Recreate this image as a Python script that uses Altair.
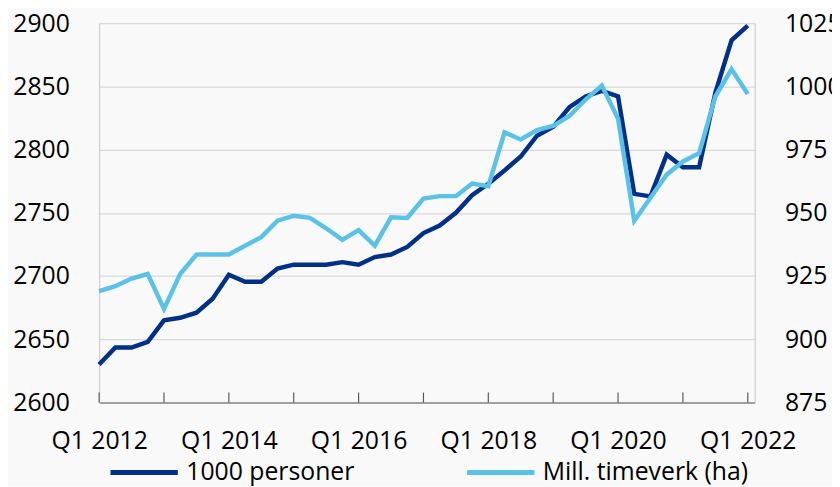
import altair as alt
import pandas as pd

quarters = list(range(41))  # Q1 2012 .. Q1 2022, index of quarter

persons = [2630, 2643.5, 2643.5, 2648, 2665, 2667, 2671, 2682, 2701, 2695.5,
           2695.5, 2706, 2709, 2709, 2709, 2711, 2709, 2715, 2717, 2723,
           2734, 2740, 2750, 2764, 2773, 2783.5, 2794.5, 2811, 2818, 2833.5,
           2842, 2846.5, 2842, 2765, 2763, 2796, 2786, 2786, 2845, 2886.5,
           2898]

hours = [919, 921, 924, 925.8, 912, 925.8, 933.5, 933.5, 933.5, 937,
         940.4, 946.9, 948.8, 948, 943.9, 939.3, 943.2, 937, 948.2, 948,
         955.6, 956.6, 956.6, 961.6, 960.5, 981.8, 979, 982.7, 984.4, 988.3,
         994.8, 1000.3, 987.2, 946.9, 956, 965.1, 970.3, 973.6, 996, 1006.8,
         997]

series_names = ["1000 personer", "Mill. timeverk (ha)"]
series_colors = ["#003087", "#5bc2e7"]
tick_positions = [0, 4, 8, 12, 16, 20, 24, 28, 32, 36, 40]
label_positions = [0, 8, 16, 24, 32, 40]
left_ticks = [2600, 2650, 2700, 2750, 2800, 2850, 2900]
right_ticks = [875, 900, 925, 950, 975, 1000, 1025]

df = pd.DataFrame({
    "q": quarters * 2,
    "series": [series_names[0]] * 41 + [series_names[1]] * 41,
    "value": persons + hours,
})
ticks_df = pd.DataFrame({"q": tick_positions})

FONT = "Open Sans"
FS = 25

x_scale = alt.Scale(domain=[0, 40.43], nice=False, zero=False)
x_axis = alt.Axis(values=label_positions, title=None, ticks=False, grid=False,
                  labelExpr="'Q1 ' + (2012 + datum.value / 4)",
                  labelOverlap=False, labelFlush=False,
                  labelPadding=26, domainColor="#595959", domainWidth=1.2,
                  labelFont=FONT, labelFontSize=FS, labelColor="#000000")
x_enc = alt.X("q:Q", scale=x_scale, axis=x_axis)

color_enc = alt.Color(
    "series:N",
    scale=alt.Scale(domain=series_names, range=series_colors),
    legend=alt.Legend(title=None, orient="none", legendX=9, legendY=417,
                      direction="horizontal", symbolType="stroke",
                      symbolSize=4624, symbolStrokeWidth=5, labelOffset=6,
                      columnPadding=103, labelFont=FONT, labelFontSize=FS,
                      labelColor="#000000", labelLimit=400, padding=0),
)

base = alt.Chart(df)

left = base.transform_filter(alt.datum.series == series_names[0]).mark_line(
    strokeWidth=4.5, strokeJoin="miter"
).encode(
    x=x_enc,
    y=alt.Y("value:Q", scale=alt.Scale(domain=[2600, 2900], nice=False, zero=False),
            axis=alt.Axis(orient="left", values=left_ticks, title=None, ticks=False,
                          format="d", labelOverlap=False, labelFlush=False,
                          grid=True, gridColor="#d9d9d9", gridWidth=1.2,
                          domainColor="#c8c8c8", labelPadding=30,
                          labelFont=FONT, labelFontSize=FS, labelColor="#000000")),
    color=color_enc,
)

right = base.transform_filter(alt.datum.series == series_names[1]).mark_line(
    strokeWidth=4.5, strokeJoin="miter"
).encode(
    x=x_enc,
    y=alt.Y("value:Q", scale=alt.Scale(domain=[875, 1025], nice=False, zero=False),
            axis=alt.Axis(orient="right", values=right_ticks, title=None, ticks=False,
                          format="d", labelOverlap=False, labelFlush=False,
                          grid=False, domainColor="#c8c8c8", labelPadding=30,
                          labelFont=FONT, labelFontSize=FS, labelColor="#000000")),
    color=color_enc,
)

xticks = alt.Chart(ticks_df).mark_rule(color="#595959", strokeWidth=1.2).encode(
    x=x_enc,
    y=alt.value(373),
    y2=alt.value(383),
)

chart = alt.layer(left, right, xticks).resolve_scale(y="independent").properties(
    width=662,
    height=383,
    autosize=alt.AutoSizeParams(type="none"),
    padding={"left": 92, "top": 13, "right": 78, "bottom": 82},
    background="#f9f9f9",
).configure_view(stroke=None)

chart.save("out.html", embed_options={"renderer": "svg", "actions": False})
